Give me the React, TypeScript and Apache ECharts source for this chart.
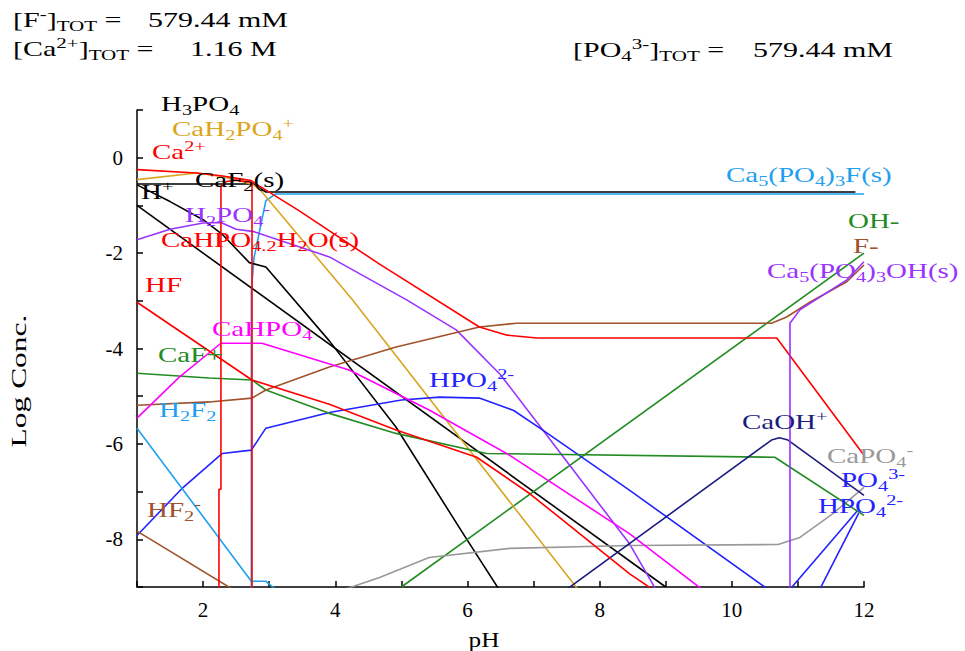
import React, { useEffect, useRef } from 'react';
import * as echarts from 'echarts';

// ---------- data (pH, log concentration) ----------
const ca5po43fS = [[2.73, -9.2], [2.73, -2.8], [2.77, -2.1], [2.95, -0.9], [3.1, -0.76], [12, -0.76]];
const caF2S = [[1, -0.55], [2.76, -0.55], [2.95, -0.72], [11.87, -0.72]];
const h3po4 = [[1, -0.57], [1.5, -0.92], [2.0, -1.3], [2.3, -1.62], [2.7, -2.2], [2.95, -2.29], [3.91, -3.84], [4.92, -5.65], [5.92, -7.85], [6.5, -9.1]];
const hPlus = [[1, -1], [9, -9]];
const ohMinus = [[5, -9], [12, -2]];
const ca2 = [[1, -0.25], [1.9, -0.32], [2.27, -0.38], [2.73, -0.48], [2.8, -0.55], [3.45, -1.11], [4.67, -2.23], [6.18, -3.55], [6.6, -3.72], [7.05, -3.78], [10.68, -3.78], [12, -6.24]];
const cahpo42h2oS = [[2.24, -9.2], [2.24, -6.95], [2.27, -6.95], [2.27, -0.6], [2.35, -0.5], [2.5, -0.47], [2.74, -0.52], [2.74, -9.2]];
const cah2po4 = [[1, -0.46], [1.9, -0.32], [2.3, -0.4], [2.73, -0.55], [2.85, -0.65], [4.26, -2.98], [7.7, -9.1]];
const h2po4 = [[1, -1.72], [1.5, -1.5], [2.0, -1.37], [2.27, -1.36], [2.5, -1.5], [2.77, -1.55], [3.91, -2.08], [5.08, -2.98], [5.83, -3.61], [6.5, -4.55], [7.14, -5.71], [8.45, -8.09], [8.85, -9.05]];
const hpo4 = [[1, -7.92], [1.67, -6.95], [2.29, -6.2], [2.73, -6.13], [2.95, -5.67], [3.91, -5.34], [5.0, -5.08], [5.58, -5.02], [6.18, -5.04], [6.7, -5.3], [7.14, -5.71], [8.45, -6.97], [10.55, -9.05]];
const hpo4High = [[10.88, -9.05], [11.9, -7.4]];
const po4 = [[11.33, -9.05], [11.92, -7.45]];
const capo4 = [[4.14, -9.05], [4.67, -8.8], [5.42, -8.38], [6.64, -8.19], [8.45, -8.13], [10.7, -8.11], [11.03, -7.96], [11.53, -7.46], [12, -6.91]];
const caFplus = [[1, -4.52], [2.09, -4.62], [2.74, -4.66], [2.95, -4.87], [3.91, -5.36], [4.92, -5.78], [6.29, -6.2], [10.65, -6.28], [12, -7.5]];
const fMinus = [[1, -5.19], [2.09, -5.12], [2.74, -5.04], [2.95, -4.87], [3.91, -4.39], [4.92, -3.97], [6.18, -3.55], [6.74, -3.47], [10.6, -3.47], [10.83, -3.34], [11.18, -3.03], [11.74, -2.6], [12, -2.25]];
const hf2 = [[1, -7.83], [2.45, -9.05]];
const h2f2 = [[1, -5.67], [2.73, -8.88], [2.95, -8.88], [3.1, -9.05]];
const hf = [[1, -3.03], [2.74, -4.66], [3.91, -5.17], [4.92, -5.71], [6.14, -6.28], [6.94, -7.04], [8.45, -8.72], [8.8, -9.05]];
const cahpo4 = [[1, -5.46], [1.64, -4.6], [2.27, -3.89], [2.89, -3.89], [4.21, -4.45], [5.42, -5.29], [6.64, -6.24], [8.45, -7.88], [9.55, -9.05]];
const caoh = [[7.5, -9.05], [10.6, -5.92], [10.72, -5.87], [10.85, -5.92], [12, -7.08]];
const ca5po43ohS = [[10.88, -9.2], [10.88, -3.47], [11.03, -3.19], [11.74, -2.56], [12, -2.18]];

const xTicks = { min: 1, max: 12, step: 1 };
const yTicks = { min: -9, max: 1, step: 1 };

// ---------- colours ----------
const BLACK = '#000000';
const GOLD = '#DAA520';
const RED = '#FF0000';
const PURPLE = '#9933FF';
const BLUE = '#2323FF';
const NAVY = '#1C1C80';
const MAGENTA = '#FF00FF';
const GREEN = '#228B22';
const BROWN = '#A0522D';
const LBLUE = '#1EA0F0';
const GRAY = '#999999';

const SERIF = '"Liberation Serif", "Times New Roman", serif';

const seriesDefs = [
  { name: 'Ca5(PO4)3F(s)', color: LBLUE, data: ca5po43fS },
  { name: 'CaF2(s)', color: BLACK, data: caF2S },
  { name: 'H3PO4', color: BLACK, data: h3po4 },
  { name: 'H+', color: BLACK, data: hPlus },
  { name: 'OH-', color: GREEN, data: ohMinus },
  { name: 'CaH2PO4+', color: GOLD, data: cah2po4 },
  { name: 'H2PO4-', color: PURPLE, data: h2po4 },
  { name: 'HPO4 2-', color: BLUE, data: hpo4 },
  { name: 'HPO4 2- (high pH)', color: BLUE, data: hpo4High },
  { name: 'PO4 3-', color: BLUE, data: po4 },
  { name: 'CaPO4-', color: GRAY, data: capo4 },
  { name: 'CaF+', color: GREEN, data: caFplus },
  { name: 'F-', color: BROWN, data: fMinus },
  { name: 'HF2-', color: BROWN, data: hf2 },
  { name: 'H2F2', color: LBLUE, data: h2f2 },
  { name: 'CaHPO4', color: MAGENTA, data: cahpo4 },
  { name: 'CaOH+', color: NAVY, data: caoh },
  { name: 'HF', color: RED, data: hf },
  { name: 'Ca2+', color: RED, data: ca2 },
  { name: 'CaHPO4.2H2O(s)', color: RED, data: cahpo42h2oS },
  { name: 'Ca5(PO4)3OH(s)', color: PURPLE, data: ca5po43ohS },
];

// label markup: {m|main} {b|subscript} {p|superscript}
const speciesLabels = [
  { t: '{m|H}{b|3}{m|PO}{b|4}', c: BLACK, x: 161, y: 104 },
  { t: '{m|CaH}{b|2}{m|PO}{b|4}{p|+}', c: GOLD, x: 172, y: 129 },
  { t: '{m|Ca}{p|2+}', c: RED, x: 152, y: 152 },
  { t: '{m|CaF}{b|2}{m|(s)}', c: BLACK, x: 195, y: 180 },
  { t: '{m|H}{p|+}', c: BLACK, x: 141, y: 192 },
  { t: '{m|Ca}{b|5}{m|(PO}{b|4}{m|)}{b|3}{m|F(s)}', c: LBLUE, x: 726, y: 175 },
  { t: '{m|H}{b|2}{m|PO}{b|4}{p|-}', c: PURPLE, x: 185, y: 215 },
  { t: '{m|CaHPO}{b|4.2}{m|H}{b|2}{m|O(s)}', c: RED, x: 161, y: 240 },
  { t: '{m|OH-}', c: GREEN, x: 848, y: 221 },
  { t: '{m|F-}', c: BROWN, x: 853, y: 246 },
  { t: '{m|Ca}{b|5}{m|(PO}{b|4}{m|)}{b|3}{m|OH(s)}', c: PURPLE, x: 767, y: 271 },
  { t: '{m|HF}', c: RED, x: 145, y: 285 },
  { t: '{m|CaHPO}{b|4}', c: MAGENTA, x: 212, y: 329 },
  { t: '{m|CaF+}', c: GREEN, x: 158, y: 355 },
  { t: '{m|HPO}{b|4}{p|2-}', c: BLUE, x: 429, y: 380 },
  { t: '{m|H}{b|2}{m|F}{b|2}', c: LBLUE, x: 159, y: 410 },
  { t: '{m|CaOH}{p|+}', c: NAVY, x: 742, y: 422 },
  { t: '{m|CaPO}{b|4}{p|-}', c: GRAY, x: 827, y: 456 },
  { t: '{m|PO}{b|4}{p|3-}', c: BLUE, x: 841, y: 480 },
  { t: '{m|HPO}{b|4}{p|2-}', c: BLUE, x: 818, y: 506 },
  { t: '{m|HF}{b|2}{p|-}', c: BROWN, x: 147, y: 510 },
];

const headerLabels = [
  { t: '{m|[F}{p|-}{m|]}{b|TOT}{m| =}', x: 13, y: 20 },
  { t: '{m|579.44 mM}', x: 148, y: 20 },
  { t: '{m|[Ca}{p|2+}{m|]}{b|TOT}{m| =}', x: 13, y: 49 },
  { t: '{m|1.16 M}', x: 190, y: 49 },
  { t: '{m|[PO}{b|4}{p|3-}{m|]}{b|TOT}{m| =}', x: 573, y: 50 },
  { t: '{m|579.44 mM}', x: 753, y: 50 },
];

function rich(color: string, size: number) {
  const s = Math.round(size * 0.72);
  const base = { fontFamily: SERIF, color };
  return {
    m: { ...base, fontSize: size, lineHeight: size + 6, verticalAlign: 'middle' },
    b: { ...base, fontSize: s, lineHeight: s, verticalAlign: 'bottom' },
    p: { ...base, fontSize: s, lineHeight: s, verticalAlign: 'top' },
  };
}

function textEl(t: string, x: number, y: number, color: string, size: number, sx: number) {
  return {
    type: 'text',
    x,
    y,
    scaleX: sx,
    silent: true,
    z: 100,
    style: {
      text: t,
      rich: rich(color, size),
      fontFamily: SERIF,
      fontSize: size,
      fill: color,
      align: 'left',
      verticalAlign: 'middle',
    },
  };
}

export default function App() {
  const ref = useRef<HTMLDivElement>(null);

  useEffect(() => {
    if (!ref.current) return;
    const chart = echarts.init(ref.current, undefined, { renderer: 'svg' });

    const graphics: any[] = [];
    speciesLabels.forEach((l) => graphics.push(textEl(l.t, l.x, l.y, l.c, 20, 1.45)));
    headerLabels.forEach((l) => graphics.push(textEl(l.t, l.x, l.y, BLACK, 20, 1.5)));
    graphics.push({
      type: 'text',
      x: 19,
      y: 381,
      rotation: Math.PI / 2,
      scaleX: 1.5,
      silent: true,
      style: { text: 'Log Conc.', fontFamily: SERIF, fontSize: 21, fill: BLACK, align: 'center', verticalAlign: 'middle' },
    });
    graphics.push({
      type: 'text',
      x: 484,
      y: 640,
      scaleX: 1.2,
      silent: true,
      style: { text: 'pH', fontFamily: SERIF, fontSize: 21, fill: BLACK, align: 'center', verticalAlign: 'middle' },
    });

    const axisCommon = {
      type: 'value',
      axisLine: { show: true, onZero: false, lineStyle: { color: BLACK, width: 1.5 } },
      axisTick: { show: true, inside: true, length: 6, lineStyle: { color: BLACK, width: 1.5 } },
      splitLine: { show: false },
    };

    chart.setOption({
      animation: false,
      backgroundColor: '#ffffff',
      grid: { left: 137, top: 110, width: 727, height: 477, containLabel: false },
      xAxis: {
        ...axisCommon,
        min: xTicks.min,
        max: xTicks.max,
        interval: xTicks.step,
        axisLabel: {
          formatter: (v: number) => (v % 2 === 0 ? String(v) : ''),
          fontFamily: SERIF,
          fontSize: 21,
          color: BLACK,
          margin: 12,
        },
      },
      yAxis: {
        ...axisCommon,
        min: yTicks.min,
        max: yTicks.max,
        interval: yTicks.step,
        axisLabel: {
          formatter: (v: number) => (v % 2 === 0 ? String(v) : ''),
          fontFamily: SERIF,
          fontSize: 21,
          color: BLACK,
          margin: 14,
        },
      },
      series: seriesDefs.map((s) => ({
        name: s.name,
        type: 'line',
        data: s.data,
        showSymbol: false,
        symbol: 'none',
        clip: true,
        lineStyle: { color: s.color, width: 1.6 },
        itemStyle: { color: s.color },
        emphasis: { disabled: true },
      })),
      graphic: graphics,
    });

    return () => chart.dispose();
  }, []);

  return <div ref={ref} style={{ position: 'absolute', left: 0, top: 0, width: 965, height: 651 }} />;
}
